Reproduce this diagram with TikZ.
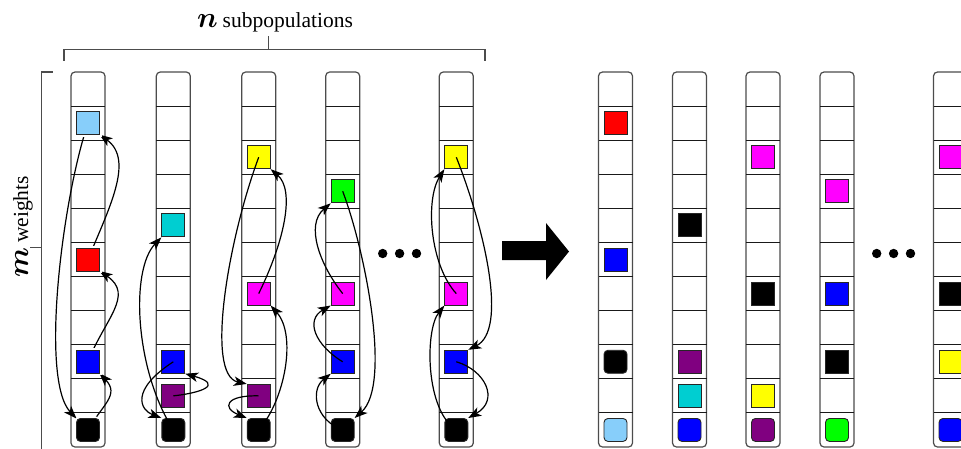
\RequirePackage{fix-cm}
\documentclass[tikz,border=0pt]{standalone}
\usepackage{fontspec}
\setmainfont{Liberation Serif}
\usetikzlibrary{arrows.meta,calc}

\definecolor{skyc}{HTML}{87CEFA}
\definecolor{tealc}{HTML}{00CED1}
\definecolor{purc}{HTML}{800080}
\definecolor{yelc}{HTML}{FFFF00}
\definecolor{magc}{HTML}{FF00FF}
\definecolor{grnc}{HTML}{00FF00}
\definecolor{redc}{HTML}{FF0000}
\definecolor{bluc}{HTML}{0000FF}

% one weight slot (square) in row #3 of the column centred at x = #2
\newcommand\slot[5]{\node[#5, fill=#4] (#1) at (#2, {72+34.09*(#3-0.5)}) {};}
% an empty column of 11 cells centred at x = #1
\newcommand\popcol[1]{%
  \draw[colbox] (#1-17,72) rectangle (#1+17,447);
  \foreach \k in {1,...,10} \draw[sepline] (#1-17,{72+34.09*\k}) -- (#1+17,{72+34.09*\k});
}

\begin{document}
\begin{tikzpicture}[x=1pt,y=-1pt,
  colbox/.style={draw=black!70, line width=1.2pt, fill=white, rounded corners=4pt},
  sepline/.style={draw=black!90, line width=1.1pt},
  cell/.style={rectangle, minimum width=23pt, minimum height=23pt, inner sep=0pt,
    draw=black!85, line width=0.9pt, preaction={draw=white, line width=4pt}},
  endcell/.style={cell, rounded corners=4pt},
  move/.style={-{Stealth[length=13pt,width=9.5pt,inset=3.5pt]}, line width=1.2pt, draw=black},
  guide/.style={draw=black!70, line width=1.1pt},
  dot/.style={circle, fill=black, inner sep=0pt, minimum size=9.4pt},
]
\useasboundingbox (0,0) rectangle (961,448);
\clip (0,0) rectangle (961,448);

% ---------- brackets and labels ----------
\draw[guide] (64,60.5) -- (64,49.5) -- (485,49.5) -- (485,60.5);
\coordinate (ntick) at (268.7,36);
\draw[guide] (268.7,49.5) -- (ntick);
\node[anchor=base, inner sep=0pt] (nlab) at (275,27.5)
  {{\fontsize{29}{30}\selectfont\boldmath$n$}\hspace{5pt}{\fontsize{21.5}{24}\selectfont subpopulations}};

\draw[guide] (52.7,72) -- (41.7,72) -- (41.7,452);
\coordinate (mtick) at (30,247.7);
\draw[guide] (41.7,247.7) -- (mtick);
\node[rotate=90, anchor=base, inner sep=0pt] (mlab) at (28,227)
  {{\fontsize{29}{30}\selectfont\boldmath$m$}\hspace{5pt}{\fontsize{21.5}{24}\selectfont weights}};

% ---------- columns before the exchange ----------
\foreach \cx in {88,173.3,258.7,342.7,456.3} {\popcol{\cx}}

% first column: links run beneath the squares
\coordinate (a1s2) at (88,123.1);
\coordinate (a1s6) at (88,259.5);
\coordinate (a1s9) at (88,361.8);
\coordinate (a1s11) at (88,430);
\draw[move] (a1s2) .. controls (62,200) and (40,380) .. (76.5,418.5);
\draw[move] (a1s6) .. controls (108,210) and (135,160) .. (99.5,134.6);
\draw[move] (a1s9) .. controls (104,320) and (135,295) .. (99.5,271);
\draw[move] (a1s11) .. controls (102,405) and (120,395) .. (99.5,373.3);

\slot{a1-2}{88}{2}{skyc}{cell}
\slot{a1-6}{88}{6}{redc}{cell}
\slot{a1-9}{88}{9}{bluc}{cell}
\slot{a1-11}{88}{11}{black}{endcell}

\slot{a2-5}{173.3}{5}{tealc}{cell}
\slot{a2-9}{173.3}{9}{bluc}{cell}
\slot{a2-10}{173.3}{10}{purc}{cell}
\slot{a2-11}{173.3}{11}{black}{endcell}

\slot{a3-3}{258.7}{3}{yelc}{cell}
\slot{a3-7}{258.7}{7}{magc}{cell}
\slot{a3-10}{258.7}{10}{purc}{cell}
\slot{a3-11}{258.7}{11}{black}{endcell}

\slot{a4-4}{342.7}{4}{grnc}{cell}
\slot{a4-7}{342.7}{7}{magc}{cell}
\slot{a4-9}{342.7}{9}{bluc}{cell}
\slot{a4-11}{342.7}{11}{black}{endcell}

\slot{a5-3}{456.3}{3}{yelc}{cell}
\slot{a5-7}{456.3}{7}{magc}{cell}
\slot{a5-9}{456.3}{9}{bluc}{cell}
\slot{a5-11}{456.3}{11}{black}{endcell}

% second column
\draw[move] (a2-11.center) .. controls (135,370) and (130,270) .. (a2-5.south west);
\draw[move] (a2-9.center) .. controls (130,390) and (140,410) .. (a2-11.north west);
\draw[move] (a2-10.center) .. controls (200,393) and (225,385) .. (a2-9.south east);

% third column
\draw[move] (a3-3.center) .. controls (228,240) and (205,375) .. (a3-10.north west);
\draw[move] (a3-7.center) .. controls (285,240) and (295,190) .. (a3-3.south east);
\draw[move] (a3-11.center) .. controls (285,400) and (297,335) .. (a3-7.south east);
\draw[move] (a3-10.center) .. controls (225,395) and (222,408) .. (a3-11.north west);

% fourth column
\draw[move] (a4-4.center) .. controls (365,250) and (392,385) .. (a4-11.north east);
\draw[move] (a4-7.center) .. controls (320,265) and (305,225) .. (a4-4.south west);
\draw[move] (a4-9.center) .. controls (315,345) and (305,320) .. (a4-7.south west);
\draw[move] (a4-11.center) .. controls (315,420) and (310,390) .. (a4-9.south west);

% last column
\draw[move] (a5-3.center) .. controls (485,230) and (508,330) .. (a5-9.north east);
\draw[move] (a5-7.center) .. controls (430,265) and (425,200) .. (a5-3.south west);
\draw[move] (a5-9.center) .. controls (485,370) and (500,400) .. (a5-11.north east);
\draw[move] (a5-11.center) .. controls (425,410) and (425,330) .. (a5-7.south west);

\node[dot] (ld1) at (382.7,253.5) {};
\node[dot] (ld2) at (399.6,253.5) {};
\node[dot] (ld3) at (416.5,253.5) {};

% ---------- block arrow ----------
\fill[black] (502,241) -- (546,241) -- (546,223) -- (569,251.5) -- (546,280)
  -- (546,260) -- (502,260) -- cycle;

% ---------- columns after the exchange ----------
\foreach \cx in {615.5,689.5,763,837,950.5} {\popcol{\cx}}

\slot{b1-2}{615.5}{2}{redc}{cell}
\slot{b1-6}{615.5}{6}{bluc}{cell}
\slot{b1-9}{615.5}{9}{black}{endcell}
\slot{b1-11}{615.5}{11}{skyc}{endcell}

\slot{b2-5}{689.5}{5}{black}{cell}
\slot{b2-9}{689.5}{9}{purc}{cell}
\slot{b2-10}{689.5}{10}{tealc}{cell}
\slot{b2-11}{689.5}{11}{bluc}{endcell}

\slot{b3-3}{763}{3}{magc}{cell}
\slot{b3-7}{763}{7}{black}{cell}
\slot{b3-10}{763}{10}{yelc}{cell}
\slot{b3-11}{763}{11}{purc}{endcell}

\slot{b4-4}{837}{4}{magc}{cell}
\slot{b4-7}{837}{7}{bluc}{cell}
\slot{b4-9}{837}{9}{black}{cell}
\slot{b4-11}{837}{11}{grnc}{endcell}

\slot{b5-3}{950.5}{3}{magc}{cell}
\slot{b5-7}{950.5}{7}{black}{cell}
\slot{b5-9}{950.5}{9}{yelc}{cell}
\slot{b5-11}{950.5}{11}{bluc}{endcell}

\node[dot] (rd1) at (876.7,253.5) {};
\node[dot] (rd2) at (893.6,253.5) {};
\node[dot] (rd3) at (910.5,253.5) {};
\end{tikzpicture}
\end{document}
